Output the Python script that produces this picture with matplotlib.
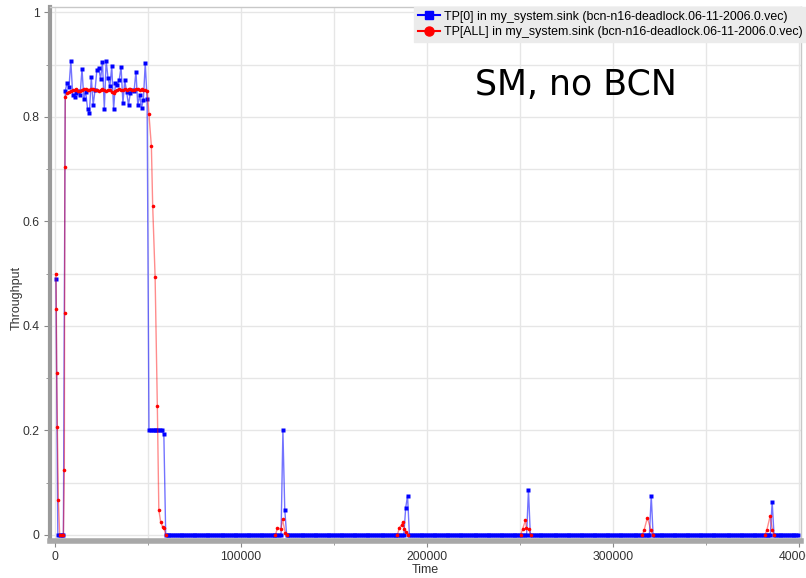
import numpy as np
import matplotlib
matplotlib.use("Agg")
import matplotlib.pyplot as plt
from matplotlib.lines import Line2D
from matplotlib.ticker import MultipleLocator, FuncFormatter

plt.rcParams['font.family'] = ['Liberation Sans', 'DejaVu Sans']

# TP[0]: sampled every 1000 time units
tp0_start_t = [500, 1500, 2500, 3500, 4500]
tp0_start_v = [0.490, 0.0, 0.0, 0.0, 0.0]

tp0_high_v = [0.850, 0.866, 0.857, 0.907, 0.843, 0.838, 0.845, 0.850, 0.843, 0.892,
              0.835, 0.848, 0.815, 0.808, 0.876, 0.823, 0.851, 0.890, 0.893, 0.873,
              0.905, 0.816, 0.908, 0.874, 0.859, 0.897, 0.815, 0.866, 0.862, 0.871,
              0.896, 0.826, 0.870, 0.848, 0.823, 0.846, 0.851, 0.850, 0.887, 0.822,
              0.842, 0.818, 0.833, 0.903, 0.834]
tp0_high_t0 = 5500

tp0_drop_v = [0.200, 0.200, 0.200, 0.200, 0.200, 0.200, 0.200, 0.200, 0.193]
tp0_drop_t0 = 50500

tp0_idle_t0 = 59500
tp0_end_t = 400000
tp0_spike_t = [122500, 123500, 188500, 189500, 254500, 320500, 385500]
tp0_spike_v = [0.200, 0.048, 0.052, 0.075, 0.087, 0.075, 0.064]

# TP[ALL]
all_start_t = [500, 700, 900, 1250, 1800, 2500, 3500, 4500, 5000, 5150, 5300, 5500]
all_start_v = [0.499, 0.432, 0.310, 0.206, 0.067, 0.0, 0.0, 0.0, 0.124, 0.425, 0.705, 0.839]

all_high_v = [0.845, 0.847, 0.849, 0.851, 0.852, 0.853, 0.850, 0.849, 0.852, 0.854,
              0.853, 0.851, 0.852, 0.854, 0.853, 0.851, 0.852, 0.850, 0.851, 0.853,
              0.852, 0.850, 0.851, 0.852, 0.848, 0.846, 0.850, 0.852, 0.853, 0.852,
              0.851, 0.853, 0.852, 0.854, 0.853, 0.852, 0.851, 0.853, 0.854, 0.852,
              0.853, 0.851, 0.852, 0.850]
all_high_t0 = 6500

all_fall_t = [50500, 51800, 52500, 53800, 55000, 55800, 56800, 57900, 58600, 59500]
all_fall_v = [0.805, 0.744, 0.630, 0.494, 0.246, 0.048, 0.025, 0.015, 0.013, 0.0]

all_bursts = [
    ([118500, 119500, 121500, 122300, 123800, 124800], [0.0, 0.013, 0.012, 0.030, 0.003, 0.0]),
    ([184000, 185100, 186400, 186900, 187800, 188700, 189700], [0.0, 0.014, 0.020, 0.025, 0.011, 0.006, 0.0]),
    ([250300, 251300, 252900, 253400, 254700, 255700], [0.0, 0.011, 0.028, 0.013, 0.011, 0.0]),
    ([315700, 316700, 318400, 320300, 321300], [0.0, 0.010, 0.033, 0.010, 0.0]),
    ([381600, 382600, 384400, 385600, 386600], [0.0, 0.009, 0.036, 0.010, 0.0]),
]

legend_labels = ["TP[0] in my_system.sink (bcn-n16-deadlock.06-11-2006.0.vec)",
                 "TP[ALL] in my_system.sink (bcn-n16-deadlock.06-11-2006.0.vec)"]

# assemble TP[0]
high_t = tp0_high_t0 + 1000 * np.arange(len(tp0_high_v))
drop_t = tp0_drop_t0 + 1000 * np.arange(len(tp0_drop_v))
idle_t = np.arange(tp0_idle_t0, tp0_end_t + 1, 1000)
idle_v = np.zeros(len(idle_t))
for t, v in zip(tp0_spike_t, tp0_spike_v):
    idle_v[idle_t == t] = v
tp0_t = np.concatenate([tp0_start_t, high_t, drop_t, idle_t])
tp0_v = np.concatenate([tp0_start_v, tp0_high_v, tp0_drop_v, idle_v])

# assemble TP[ALL], gaps between the bursts
all_t = list(all_start_t) + list(all_high_t0 + 1000 * np.arange(len(all_high_v))) + all_fall_t
all_v = list(all_start_v) + list(all_high_v) + all_fall_v
for bt, bv in all_bursts:
    all_t += [np.nan] + bt
    all_v += [np.nan] + bv

fig = plt.figure(figsize=(8.06, 5.78), dpi=100)
ax = fig.add_axes([50 / 806, 1 - 541 / 578, 751 / 806, 534 / 578])

ax.plot(tp0_t, tp0_v, color='#0000ff', lw=1, alpha=0.55, zorder=2)
ax.plot(tp0_t, tp0_v, ls='none', marker='s', ms=3.2, mec='none', mfc='#0000ff', zorder=2.5)
ax.plot(all_t, all_v, color='#ff0000', lw=1, alpha=0.45, zorder=3)
ax.plot(all_t, all_v, ls='none', marker='o', ms=2.6, mec='none', mfc='#ff0000', zorder=3.5)

ax.set_xlim(-2700, 401000)
ax.set_ylim(-0.0115, 1.0105)

ax.xaxis.set_major_locator(MultipleLocator(100000))
ax.xaxis.set_minor_locator(MultipleLocator(50000))
ax.yaxis.set_major_locator(MultipleLocator(0.2))
ax.yaxis.set_minor_locator(MultipleLocator(0.1))
ax.yaxis.set_major_formatter(FuncFormatter(lambda v, p: '%g' % round(v, 2)))
ax.xaxis.set_major_formatter(FuncFormatter(lambda v, p: '%d' % v))

ax.grid(True, which='both', color='#e6e6e6', lw=1)
ax.set_axisbelow(True)

ax.tick_params(which='both', colors='#888888', labelcolor='#333333', labelsize=8.8)
ax.tick_params(which='major', length=4)
ax.tick_params(which='minor', length=3)
ax.tick_params(axis='x', pad=3)

for side in ('top', 'right'):
    ax.spines[side].set_color('#c8c8c8')
    ax.spines[side].set_linewidth(1)
ax.spines['left'].set_color('#9a9a9a')
ax.spines['left'].set_linewidth(3)
ax.spines['bottom'].set_color('#a8a8a8')
ax.spines['bottom'].set_linewidth(4)

ax.set_xlabel('Time', fontsize=9, color='#333333')
ax.set_ylabel('Throughput', fontsize=9, color='#333333')
ax.xaxis.set_label_coords(0.5, -(570 - 541) / 534, transform=ax.transAxes)
ax.yaxis.set_label_coords(-(50 - 17) / 751, (541 - 298) / 534, transform=ax.transAxes)
ax.xaxis.label.set_va('center')
ax.yaxis.label.set_va('center')

handles = [Line2D([], [], color='#0000ff', lw=1.5, marker='s', ms=6),
           Line2D([], [], color='#ff0000', lw=1.5, marker='o', ms=6.5)]
leg = fig.legend(handles, legend_labels, loc='upper right',
                 bbox_to_anchor=(1.0, 1 - 7 / 578), fontsize=8.9,
                 frameon=True, fancybox=False, facecolor='#ebebeb',
                 edgecolor='#ebebeb', framealpha=1, handlelength=1.8,
                 handletextpad=0.3, borderpad=0.3, labelspacing=0.3,
                 borderaxespad=0)
leg.set_zorder(10)

fig.text(576 / 806, 1 - 85 / 578, 'SM, no BCN', fontsize=25,
         family='DejaVu Sans', ha='center', va='center', color='black')

fig.savefig('out.png', dpi=100)
